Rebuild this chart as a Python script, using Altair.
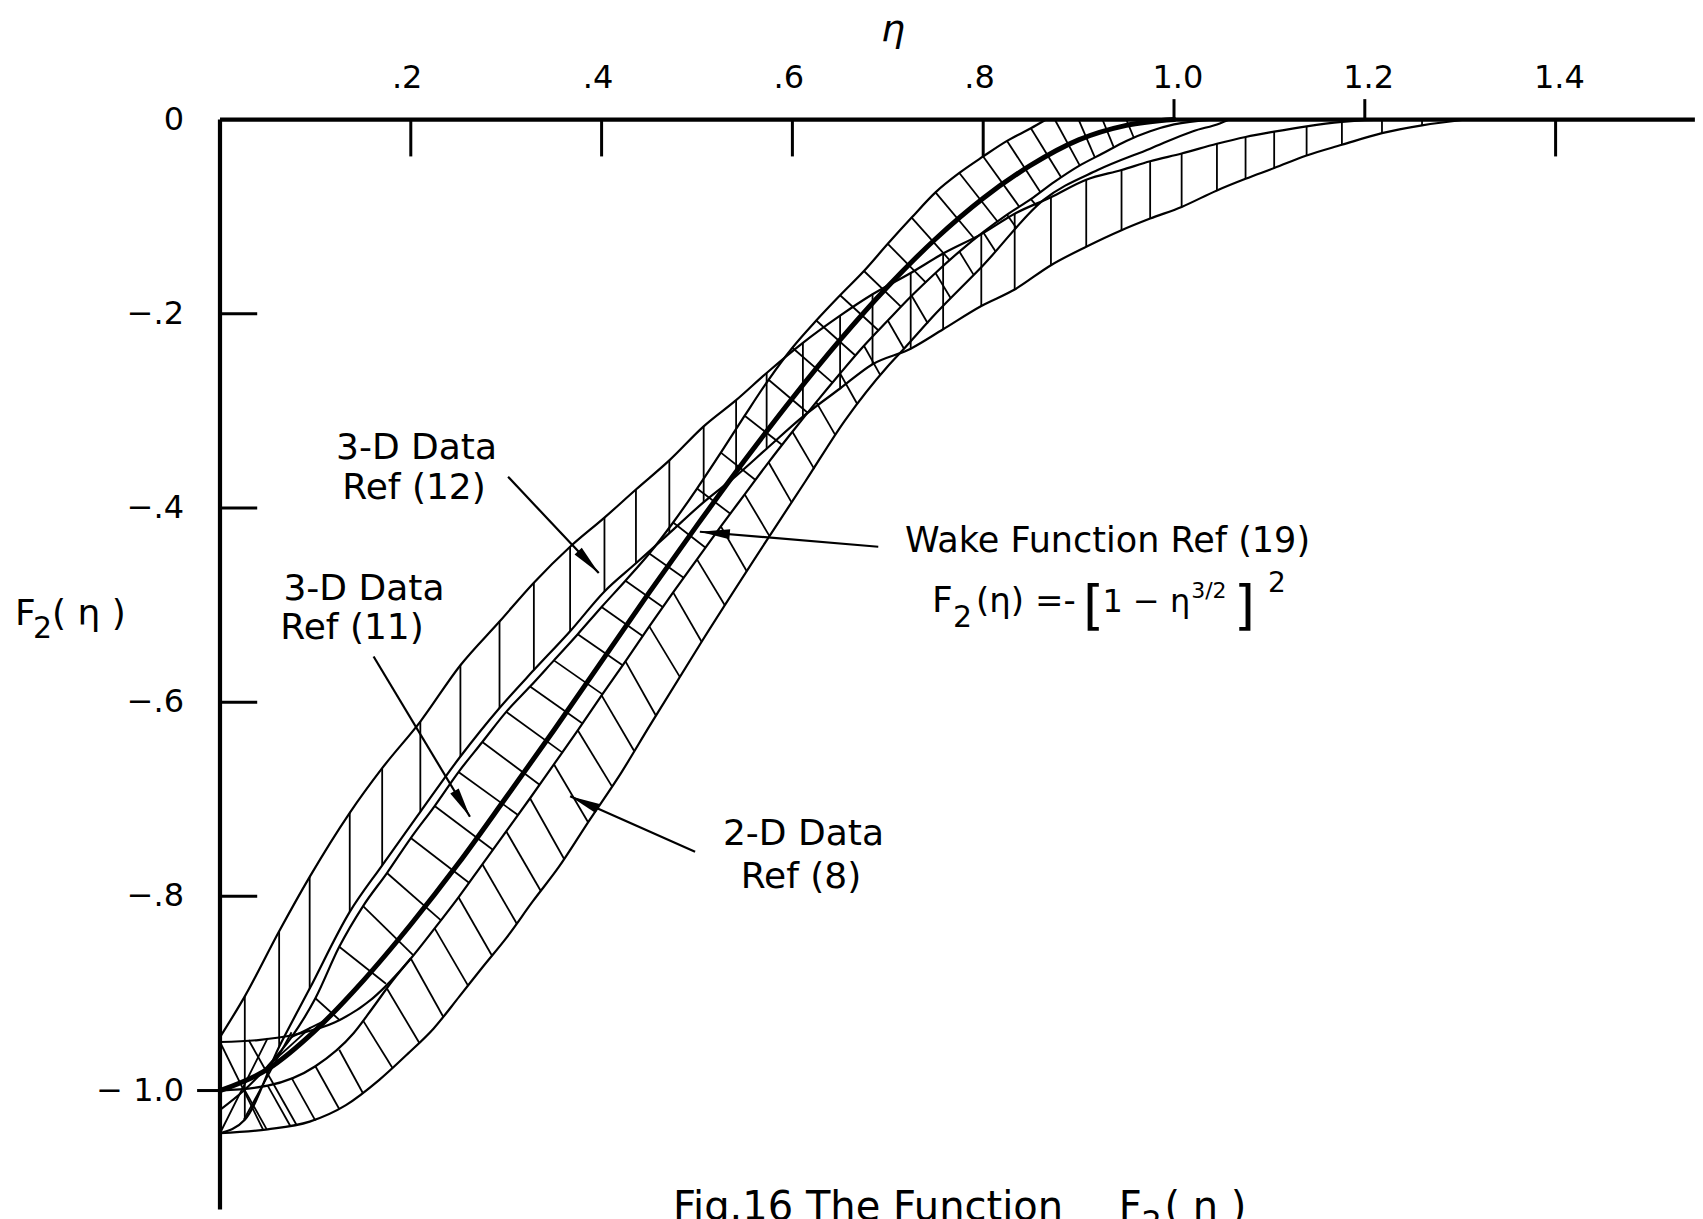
import math
import altair as alt
import pandas as pd

# ---------------------------------------------------------------------------
# Frame: eta across, F2(eta) down; the plot area fills the whole page
# ---------------------------------------------------------------------------
W, H = 1703, 1219
ETA_DOMAIN = [-0.2306, 1.5545]
F_DOMAIN = [-1.1323, 0.1231]
FONT = "DejaVu Sans"
INK = "black"

# ---------------------------------------------------------------------------
# Wake function Ref (19): F2 = -[1 - eta^(3/2)]^2   (heavy curve)
# ---------------------------------------------------------------------------
wake_eta = [0.0, 0.05, 0.1, 0.15, 0.2, 0.25, 0.3, 0.35, 0.4, 0.45, 0.5,
            0.55, 0.6, 0.65, 0.7, 0.75, 0.8, 0.85, 0.9, 0.95, 1.0]
wake_f = [-1.0, -0.978, -0.938, -0.887, -0.829, -0.766, -0.698, -0.629, -0.558, -0.487, -0.418,
          -0.351, -0.287, -0.227, -0.172, -0.123, -0.081, -0.047, -0.021, -0.006, 0.0]

# ---------------------------------------------------------------------------
# 3-D data, Ref (12): band with vertical hatching (one stroke per station)
# ---------------------------------------------------------------------------
ref12_eta = [0.0, 0.026, 0.062, 0.094, 0.136, 0.170, 0.210, 0.252, 0.293, 0.329,
             0.367, 0.403, 0.436, 0.471, 0.507, 0.541, 0.573, 0.611, 0.650, 0.684,
             0.724, 0.758, 0.798, 0.833, 0.871, 0.908, 0.945, 0.975, 1.008, 1.045,
             1.075, 1.105, 1.139, 1.176, 1.218, 1.260, 1.306]
ref12_upper = [-0.945, -0.903, -0.836, -0.780, -0.714, -0.668, -0.620, -0.562, -0.517, -0.477,
               -0.440, -0.410, -0.381, -0.351, -0.316, -0.289, -0.261, -0.230, -0.202, -0.180,
               -0.158, -0.138, -0.118, -0.097, -0.080, -0.062, -0.052, -0.043, -0.035, -0.025,
               -0.018, -0.0125, -0.007, -0.0025, 0.0, 0.0, 0.0]
ref12_lower = [-1.044, -1.030, -0.955, -0.895, -0.816, -0.768, -0.713, -0.656, -0.606, -0.567,
               -0.527, -0.486, -0.457, -0.426, -0.394, -0.367, -0.339, -0.306, -0.277, -0.252,
               -0.236, -0.216, -0.192, -0.175, -0.150, -0.131, -0.114, -0.102, -0.090, -0.073,
               -0.061, -0.050, -0.037, -0.026, -0.014, -0.006, 0.0]

# ---------------------------------------------------------------------------
# 3-D data, Ref (11): band edges and its cross strokes
# ---------------------------------------------------------------------------
ref11_left_eta = [0.0, 0.025, 0.05, 0.075, 0.1, 0.125, 0.15, 0.175, 0.2, 0.225, 0.25, 0.275,
                  0.3, 0.325, 0.35, 0.375, 0.4, 0.425, 0.45, 0.475, 0.5, 0.525, 0.55, 0.575,
                  0.6, 0.625, 0.65, 0.675, 0.7, 0.725, 0.75, 0.775, 0.8, 0.825, 0.85, 0.866]
ref11_left_f = [-1.02, -1.0, -0.975, -0.945, -0.905, -0.852, -0.81, -0.776, -0.74, -0.707,
                -0.672, -0.641, -0.61, -0.584, -0.557, -0.53, -0.502, -0.475, -0.447, -0.415,
                -0.38, -0.343, -0.305, -0.268, -0.235, -0.207, -0.181, -0.156, -0.128, -0.101,
                -0.075, -0.055, -0.038, -0.022, -0.009, 0.0]

ref11_right_eta = [0.0, 0.04, 0.08, 0.12, 0.16, 0.2, 0.225, 0.25, 0.275, 0.3, 0.325, 0.35,
                   0.375, 0.4, 0.425, 0.45, 0.475, 0.5, 0.525, 0.55, 0.575, 0.6, 0.625, 0.65,
                   0.675, 0.7, 0.725, 0.75, 0.775, 0.8, 0.825, 0.85, 0.875, 0.9, 0.925, 0.95,
                   0.975, 1.0, 1.04]
ref11_right_f = [-0.950, -0.948, -0.942, -0.930, -0.905, -0.864, -0.833, -0.801, -0.767, -0.733,
                 -0.699, -0.664, -0.629, -0.593, -0.558, -0.522, -0.487, -0.453, -0.419, -0.386,
                 -0.353, -0.3215, -0.291, -0.2615, -0.233, -0.207, -0.1815, -0.158, -0.136, -0.116,
                 -0.098, -0.082, -0.064, -0.048, -0.035, -0.022, -0.012, -0.005, 0.0]

ref11_hatch_eta0 = [0.000, 0.030, 0.000, 0.025, 0.050, 0.075, 0.100, 0.125, 0.150, 0.175,
                    0.200, 0.225, 0.250, 0.275, 0.300, 0.325, 0.350, 0.375, 0.400, 0.425,
                    0.450, 0.475, 0.500, 0.525, 0.550, 0.575, 0.600, 0.625, 0.650, 0.675,
                    0.700, 0.725, 0.750, 0.775, 0.800, 0.825, 0.850, 0.875, 0.900, 0.925, 0.950]
ref11_hatch_f0 = [-0.950, -0.948, -1.044, -1.030, -0.975, -0.945, -0.905, -0.852, -0.810, -0.776,
                  -0.740, -0.707, -0.672, -0.641, -0.610, -0.584, -0.557, -0.530, -0.502, -0.475,
                  -0.447, -0.415, -0.380, -0.343, -0.305, -0.268, -0.235, -0.207, -0.181, -0.156,
                  -0.128, -0.101, -0.075, -0.055, -0.038, -0.022, -0.009, 0.0, 0.0, 0.0, 0.0]
ref11_hatch_eta1 = [0.045, 0.080, 0.050, 0.075, 0.095, 0.110, 0.126, 0.174, 0.203, 0.232,
                    0.261, 0.286, 0.312, 0.335, 0.359, 0.380, 0.401, 0.422, 0.443, 0.464,
                    0.486, 0.509, 0.535, 0.561, 0.589, 0.616, 0.642, 0.666, 0.690, 0.714,
                    0.740, 0.765, 0.791, 0.815, 0.838, 0.860, 0.882, 0.901, 0.917, 0.937, 0.958]
ref11_hatch_f1 = [-1.040, -1.035, -0.946, -0.940, -0.935, -0.928, -0.928, -0.890, -0.861, -0.825,
                  -0.786, -0.752, -0.716, -0.685, -0.652, -0.622, -0.592, -0.562, -0.532, -0.502,
                  -0.472, -0.441, -0.406, -0.371, -0.335, -0.302, -0.271, -0.243, -0.217, -0.193,
                  -0.168, -0.145, -0.123, -0.105, -0.090, -0.075, -0.060, -0.047, -0.039, -0.029,
                  -0.019]

# ---------------------------------------------------------------------------
# 2-D data, Ref (8): inner edge near the origin, outer edge, slanted strokes
# ---------------------------------------------------------------------------
ref8_inner_eta = [0.0, 0.05, 0.1, 0.14, 0.16, 0.18, 0.2]
ref8_inner_f = [-1.0, -0.995, -0.975, -0.941, -0.915, -0.888, -0.864]

ref8_outer_eta = [0.0, 0.05, 0.094, 0.132, 0.167, 0.197, 0.224, 0.251, 0.276, 0.3,
                  0.328, 0.355, 0.387, 0.421, 0.45, 0.506, 0.572, 0.614, 0.655, 0.7,
                  0.716, 0.75, 0.8, 0.863, 0.92, 0.975, 1.02, 1.048, 1.058]
ref8_outer_f = [-1.044, -1.04, -1.032, -1.015, -0.989, -0.962, -0.936, -0.903, -0.872, -0.843,
                -0.805, -0.77, -0.722, -0.672, -0.625, -0.536, -0.435, -0.372, -0.31, -0.254,
                -0.237, -0.2, -0.15, -0.083, -0.052, -0.03, -0.012, -0.004, 0.0]

ref8_hatch_eta0 = [0.025, 0.05, 0.075, 0.1, 0.125, 0.15, 0.175, 0.2, 0.225, 0.25, 0.275, 0.3,
                   0.325, 0.35, 0.375, 0.4, 0.425, 0.45, 0.475, 0.5, 0.525, 0.55, 0.575, 0.6,
                   0.625, 0.65, 0.675, 0.7, 0.725, 0.75, 0.775, 0.8, 0.825, 0.85]
ref8_hatch_f0 = [-0.998, -0.995, -0.987, -0.975, -0.958, -0.928, -0.895, -0.864, -0.833, -0.801,
                 -0.767, -0.733, -0.699, -0.664, -0.629, -0.593, -0.558, -0.522, -0.487, -0.453,
                 -0.419, -0.386, -0.353, -0.3215, -0.291, -0.2615, -0.233, -0.207, -0.1815, -0.158,
                 -0.136, -0.116, -0.098, -0.082]
ref8_hatch_eta1 = [0.049, 0.074, 0.1, 0.125, 0.15, 0.181, 0.209, 0.234, 0.26, 0.285, 0.311, 0.336,
                   0.361, 0.386, 0.411, 0.434, 0.457, 0.482, 0.505, 0.529, 0.552, 0.576, 0.599, 0.623,
                   0.645, 0.668, 0.692, 0.717, 0.742, 0.766, 0.79, 0.813, 0.835, 0.856]
ref8_hatch_f1 = [-1.04, -1.037, -1.031, -1.019, -1.003, -0.977, -0.951, -0.924, -0.892, -0.861,
                 -0.828, -0.794, -0.762, -0.724, -0.687, -0.650, -0.614, -0.574, -0.538, -0.500,
                 -0.465, -0.429, -0.394, -0.360, -0.325, -0.293, -0.263, -0.236, -0.210, -0.184,
                 -0.160, -0.136, -0.112, -0.089]

# ---------------------------------------------------------------------------
# Call-out arrows: tail near the label, head on the band
# ---------------------------------------------------------------------------
arrow_name = ["ref12", "ref11", "wake", "ref8"]
arrow_tail_eta = [0.302, 0.161, 0.690, 0.498]
arrow_tail_f = [-0.368, -0.553, -0.440, -0.754]
arrow_head_eta = [0.397, 0.262, 0.503, 0.367]
arrow_head_f = [-0.467, -0.718, -0.4245, -0.697]

# Axis ticks and their labels
eta_ticks = [0.2, 0.4, 0.6, 0.8, 1.0, 1.2, 1.4]
eta_tick_labels = [".2", ".4", ".6", ".8", "1.0", "1.2", "1.4"]
eta_ticks_up = [1.0, 1.2]
f_ticks = [0.0, -0.2, -0.4, -0.6, -0.8, -1.0]
f_tick_labels = ["0", "\u2212.2", "\u2212.4", "\u2212.6", "\u2212.8", "\u2212 1.0"]

# ---------------------------------------------------------------------------
xs = alt.Scale(domain=ETA_DOMAIN, nice=False, zero=False)
ys = alt.Scale(domain=F_DOMAIN, nice=False, zero=False)


def X(field):
    return alt.X(field, type="quantitative", scale=xs, axis=None)


def Y(field):
    return alt.Y(field, type="quantitative", scale=ys, axis=None)


def segments(df, width):
    return alt.Chart(df).mark_rule(color=INK, strokeWidth=width, strokeCap="butt").encode(
        x=X("eta0"), y=Y("f0"), x2=alt.X2("eta1"), y2=alt.Y2("f1"))


def seg_frame(eta0, f0, eta1, f1):
    return pd.DataFrame({"eta0": eta0, "f0": f0, "eta1": eta1, "f1": f1})


def label(t, eta, f, size=36, align="center", baseline="middle", italic=False):
    df = pd.DataFrame({"t": [t], "eta": [eta], "f": [f]})
    return alt.Chart(df).mark_text(
        font=FONT, fontSize=size, align=align, baseline=baseline, color=INK,
        fontStyle="italic" if italic else "normal",
    ).encode(x=X("eta"), y=Y("f"), text="t:N")


def curve(name, etas, fs):
    return pd.DataFrame({"curve": name, "eta": etas, "f": fs, "seq": list(range(len(etas)))})


layers = []

# vertical hatching of the Ref (12) band
layers.append(segments(seg_frame(ref12_eta, ref12_lower, ref12_eta, ref12_upper), 1.8))
# cross strokes of the Ref (11) band
layers.append(segments(seg_frame(ref11_hatch_eta0, ref11_hatch_f0,
                                 ref11_hatch_eta1, ref11_hatch_f1), 1.8))
# slanted strokes of the 2-D band
layers.append(segments(seg_frame(ref8_hatch_eta0, ref8_hatch_f0,
                                 ref8_hatch_eta1, ref8_hatch_f1), 1.8))

# band edges
edges = pd.concat([
    curve("ref12_upper", ref12_eta, ref12_upper),
    curve("ref12_lower", ref12_eta, ref12_lower),
    curve("ref11_left", ref11_left_eta, ref11_left_f),
    curve("ref11_right", ref11_right_eta, ref11_right_f),
    curve("ref8_inner", ref8_inner_eta, ref8_inner_f),
    curve("ref8_outer", ref8_outer_eta, ref8_outer_f),
], ignore_index=True)
layers.append(
    alt.Chart(edges).mark_line(color=INK, strokeWidth=2.2, interpolate="monotone").encode(
        x=X("eta"), y=Y("f"), detail="curve:N", order="seq:Q"))

# wake function
layers.append(
    alt.Chart(curve("wake", wake_eta, wake_f)).mark_line(
        color=INK, strokeWidth=5, interpolate="monotone", strokeCap="round").encode(
        x=X("eta"), y=Y("f"), order="seq:Q"))

# axes: eta along the top at F2 = 0, F2 down the left at eta = 0
axis_lines = seg_frame([0.0, 0.0], [0.0, 0.0], [1.546, 0.0], [0.0, -1.1226])
layers.append(segments(axis_lines, 4.2))

tick_eta0, tick_f0, tick_eta1, tick_f1 = [], [], [], []
for v in eta_ticks:
    tick_eta0.append(v)
    tick_eta1.append(v)
    tick_f0.append(0.0)
    tick_f1.append(0.021 if v in eta_ticks_up else -0.038)
for v in f_ticks[1:]:
    tick_f0.append(v)
    tick_f1.append(v)
    tick_eta0.append(0.0)
    tick_eta1.append(-0.024 if v == -1.0 else 0.039)
layers.append(segments(seg_frame(tick_eta0, tick_f0, tick_eta1, tick_f1), 3))

for v, t in zip(eta_ticks, eta_tick_labels):
    if t.startswith("."):
        layers.append(label(t, v + 0.0122, 0.0328, size=32, align="right", baseline="alphabetic"))
    else:
        layers.append(label(t, v + 0.004, 0.0328, size=32, align="center", baseline="alphabetic"))
for v, t in zip(f_ticks, f_tick_labels):
    layers.append(label(t, -0.0377, v, size=32, align="right", baseline="middle"))

# axis titles
layers.append(label("\u03b7", 0.7055, 0.0922, size=38, italic=True))
layers.append(label("F", -0.2149, -0.5206, size=36, align="left", baseline="alphabetic"))
layers.append(label("2", -0.196, -0.534, size=30, align="left", baseline="alphabetic"))
layers.append(label("( \u03b7 )", -0.1761, -0.5206, size=36, align="left", baseline="alphabetic"))

# arrows
tails = pd.DataFrame({"name": arrow_name, "eta0": arrow_tail_eta, "f0": arrow_tail_f,
                      "eta1": arrow_head_eta, "f1": arrow_head_f})
layers.append(segments(tails, 2.2))
px_x = W / (ETA_DOMAIN[1] - ETA_DOMAIN[0])
px_y = H / (F_DOMAIN[1] - F_DOMAIN[0])
tails["angle"] = [
    math.degrees(math.atan2((e1 - e0) * px_x, (f1 - f0) * px_y)) % 360
    for e0, f0, e1, f1 in zip(arrow_tail_eta, arrow_tail_f, arrow_head_eta, arrow_head_f)
]
layers.append(
    alt.Chart(tails).mark_point(
        shape="M0,0L-0.33,2L0.33,2Z", size=900, filled=True, color=INK, opacity=1,
        strokeWidth=0).encode(
        x=X("eta1"), y=Y("f1"), angle=alt.Angle("angle:Q", scale=None)))

# band labels
layers.append(label("3-D Data", 0.2060, -0.3378))
layers.append(label("Ref (12)", 0.2034, -0.3790))
layers.append(label("3-D Data", 0.1509, -0.4835))
layers.append(label("Ref (11)", 0.1384, -0.5237))
layers.append(label("2-D Data", 0.6116, -0.7358))
layers.append(label("Ref (8)", 0.6090, -0.7806))
layers.append(label("Wake Function  Ref (19)", 0.7180, -0.4345, size=35, align="left"))

# F2(eta) = -[1 - eta^(3/2)]^2
layers.append(label("F", 0.7463, -0.5072, size=36, align="left", baseline="alphabetic"))
layers.append(label("2", 0.7683, -0.5227, size=30, align="left", baseline="alphabetic"))
layers.append(label("(\u03b7) =-", 0.7925, -0.5072, size=34, align="left", baseline="alphabetic"))
layers.append(label("[", 0.9046, -0.5196, size=54, align="left", baseline="alphabetic"))
layers.append(label("1 \u2212 \u03b7", 0.9250, -0.5072, size=32, align="left", baseline="alphabetic"))
layers.append(label("3/2", 1.0180, -0.4928, size=22, align="left", baseline="alphabetic"))
layers.append(label("]", 1.0629, -0.5196, size=54, align="left", baseline="alphabetic"))
layers.append(label("2", 1.0985, -0.4866, size=28, align="left", baseline="alphabetic"))

# figure caption along the bottom edge
layers.append(label("Fig.16  The Function", 0.4748, -1.1334, size=40, align="left", baseline="alphabetic"))
layers.append(label("F", 0.9421, -1.1334, size=40, align="left", baseline="alphabetic"))
layers.append(label("2", 0.9660, -1.1470, size=32, align="left", baseline="alphabetic"))
layers.append(label("( \u03b7 )", 0.9900, -1.1334, size=40, align="left", baseline="alphabetic"))

chart = alt.layer(*layers).properties(
    width=W, height=H,
    autosize=alt.AutoSizeParams(type="none"),
    padding=0,
    background="white",
).configure_view(stroke=None)

chart.save("out.html", embed_options={"renderer": "svg", "actions": False})
